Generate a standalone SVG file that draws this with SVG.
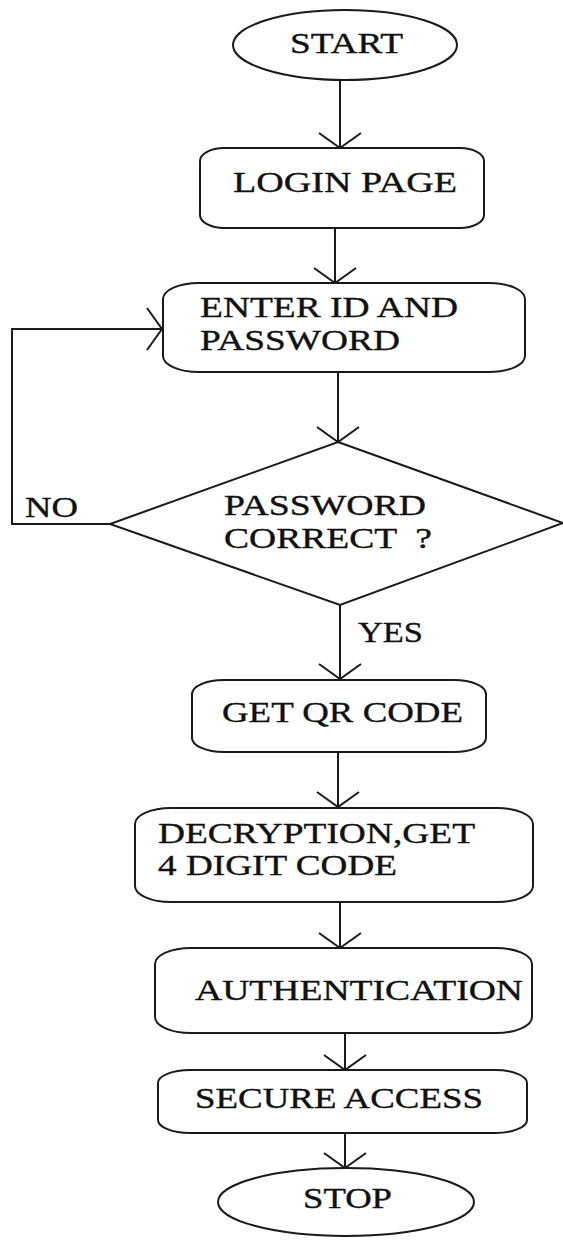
<svg xmlns="http://www.w3.org/2000/svg" width="563" height="1240" viewBox="0 0 563 1240">
<style>
.s{fill:#fff;stroke:#1a1a1a;stroke-width:2}
.c{fill:none;stroke:#1a1a1a;stroke-width:2}
.t{font-family:"Liberation Serif","Times New Roman",serif;font-size:29px;fill:#111;stroke:#111;stroke-width:0.35;white-space:pre}
</style>
<defs>
<marker id="ah" markerUnits="userSpaceOnUse" markerWidth="40" markerHeight="50" refX="0" refY="0" viewBox="-20 -25 40 50" orient="auto" overflow="visible">
<path d="M-15,-21 L0,0 L-15,21" fill="none" stroke="#1a1a1a" stroke-width="2"/>
</marker>
</defs>
<rect width="563" height="1240" fill="#fff"/>
<g id="connectors">
<line class="c" x1="340" y1="80" x2="340" y2="148" marker-end="url(#ah)"/>
<line class="c" x1="335" y1="228" x2="335" y2="283" marker-end="url(#ah)"/>
<line class="c" x1="338" y1="372" x2="338" y2="442" marker-end="url(#ah)"/>
<polyline class="c" points="110,524 12,524 12,329 162,329" marker-end="url(#ah)"/>
<line class="c" x1="340" y1="605" x2="340" y2="679" marker-end="url(#ah)"/>
<line class="c" x1="338" y1="752" x2="338" y2="807" marker-end="url(#ah)"/>
<line class="c" x1="340" y1="902" x2="340" y2="948" marker-end="url(#ah)"/>
<line class="c" x1="345" y1="1033" x2="345" y2="1070" marker-end="url(#ah)"/>
<line class="c" x1="345" y1="1133" x2="345" y2="1168" marker-end="url(#ah)"/>
<text class="t" x="25" y="517" textLength="53" lengthAdjust="spacingAndGlyphs">NO</text>
<text class="t" x="358" y="642" textLength="65" lengthAdjust="spacingAndGlyphs">YES</text>
</g>
<g id="start">
<ellipse class="s" cx="345" cy="45" rx="112" ry="35"/>
<text class="t" x="290" y="53" textLength="113" lengthAdjust="spacingAndGlyphs">START</text>
</g>
<g id="login">
<rect class="s" x="200" y="148" width="284" height="80" rx="24" ry="13"/>
<text class="t" x="233" y="192" textLength="224" lengthAdjust="spacingAndGlyphs">LOGIN PAGE</text>
</g>
<g id="enter">
<rect class="s" x="163" y="283" width="362" height="89" rx="36" ry="16"/>
<text class="t" x="200" y="317" textLength="258" lengthAdjust="spacingAndGlyphs">ENTER ID AND</text>
<text class="t" x="200" y="350" textLength="200" lengthAdjust="spacingAndGlyphs">PASSWORD</text>
</g>
<g id="decision">
<polygon class="s" points="338,442 563,523 340,605 110,524"/>
<text class="t" x="224" y="515" textLength="202" lengthAdjust="spacingAndGlyphs">PASSWORD</text>
<text class="t" x="224" y="548" textLength="208" lengthAdjust="spacingAndGlyphs">CORRECT  ?</text>
</g>
<g id="getqr">
<rect class="s" x="192" y="680" width="294" height="72" rx="32" ry="14"/>
<text class="t" x="222" y="722" textLength="241" lengthAdjust="spacingAndGlyphs">GET QR CODE</text>
</g>
<g id="decrypt">
<rect class="s" x="135" y="808" width="398" height="94" rx="36" ry="16"/>
<text class="t" x="158" y="843" textLength="317" lengthAdjust="spacingAndGlyphs">DECRYPTION,GET</text>
<text class="t" x="158" y="875" textLength="239" lengthAdjust="spacingAndGlyphs">4 DIGIT CODE</text>
</g>
<g id="auth">
<rect class="s" x="155" y="948" width="377" height="85" rx="36" ry="16"/>
<text class="t" x="195" y="1000" textLength="328" lengthAdjust="spacingAndGlyphs">AUTHENTICATION</text>
</g>
<g id="secure">
<rect class="s" x="158" y="1070" width="369" height="63" rx="32" ry="13"/>
<text class="t" x="195" y="1108" textLength="288" lengthAdjust="spacingAndGlyphs">SECURE ACCESS</text>
</g>
<g id="stop">
<ellipse class="s" cx="346" cy="1202" rx="128" ry="34"/>
<text class="t" x="303" y="1208" textLength="89" lengthAdjust="spacingAndGlyphs">STOP</text>
</g>
</svg>
